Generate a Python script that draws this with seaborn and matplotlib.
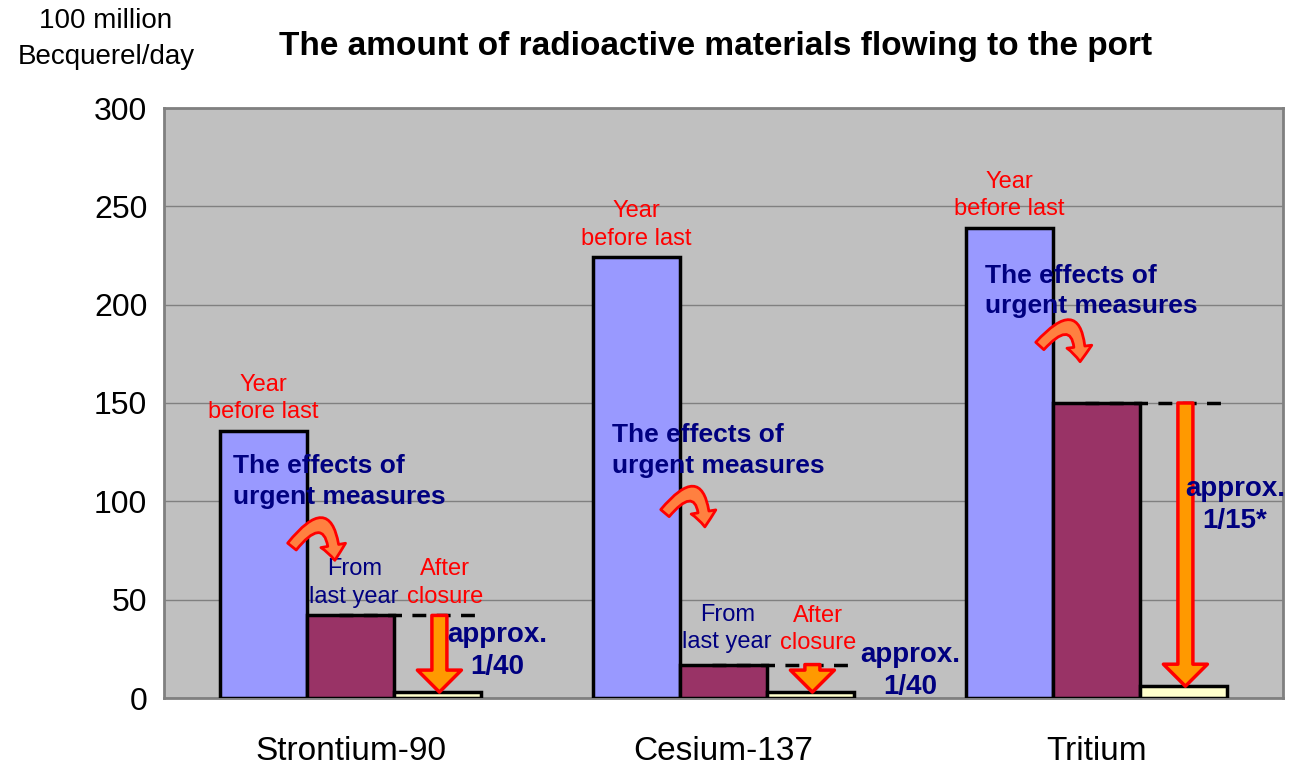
import pandas as pd
import numpy as np
import seaborn as sns
import matplotlib.pyplot as plt

# values (100 million Bq/day)
elements = ["Strontium-90", "Cesium-137", "Tritium"]
periods = ["Year before last", "Last year", "After closure"]
before_last = [136, 224, 239]
last_year = [42, 17, 150]
after_closure = [3, 3, 6]
ratio_labels = ["approx.\n1/40", "approx.\n1/40", "approx.\n1/15*"]
y_ticks = [0, 50, 100, 150, 200, 250, 300]

colors = ["#9999FF", "#993366", "#FFFFCC"]
navy = "#000080"

df = pd.DataFrame({
    "element": np.repeat(elements, 3),
    "period": periods * 3,
    "value": [v for trio in zip(before_last, last_year, after_closure) for v in trio],
})

sns.set_style("white")
plt.rcParams["font.family"] = ["Liberation Sans", "DejaVu Sans"]
plt.rcParams["text.color"] = "black"
plt.rcParams["xtick.color"] = "black"
plt.rcParams["ytick.color"] = "black"

fig = plt.figure(figsize=(12.89, 7.66), dpi=100)
ax = fig.add_axes([164 / 1289, 68 / 766, 1119 / 1289, 590 / 766])
ax.set_facecolor("#C0C0C0")

sns.barplot(data=df, x="element", y="value", hue="period", order=elements,
            hue_order=periods, palette=colors, saturation=1, width=0.7,
            edgecolor="black", linewidth=2.5, legend=False, ax=ax, zorder=3)

ax.set_xlim(-0.5, 2.5)
ax.set_ylim(0, 300)
ax.set_yticks(y_ticks)
ax.yaxis.grid(True, color="#808080", linewidth=1)
ax.set_axisbelow(True)
ax.tick_params(axis="y", length=0, pad=12, labelsize=23, labelcolor="black")
ax.tick_params(axis="x", length=0, pad=27, labelsize=24, labelcolor="black")
ax.set_xlabel("")
ax.set_ylabel("")
for s in ax.spines.values():
    s.set_color("#808080")
    s.set_linewidth(2)

fig.text(106 / 1289, 1 - 39 / 766, "100 million\nBecquerel/day", ha="center",
         va="center", fontsize=20, linespacing=1.45, color="black")
fig.text(716 / 1289, 1 - 47 / 766, "The amount of radioactive materials flowing to the port",
         ha="center", va="center", fontsize=24, fontweight="bold", color="black")

off = 0.7 / 3
effects_pos = [(-0.315, 110), (0.70, 126), (1.70, 207)]
curve_pos = [((-0.157, 77), (-0.042, 70)), ((0.843, 94), (0.95, 87)), ((1.848, 179), (1.956, 171))]
ratio_pos = [(0.393, 24), (1.50, 13.5), (2.371, 98)]

for i in range(3):
    # label above tallest bar
    ax.text(i - off, before_last[i] + 4, "Year\nbefore last", color="red",
            fontsize=17, ha="center", va="bottom", linespacing=1.3, zorder=5)
    ax.text(*effects_pos[i], "The effects of\nurgent measures", color=navy,
            fontsize=19, fontweight="bold", ha="left", va="center",
            linespacing=1.35, zorder=6)
    ax.annotate("", xy=curve_pos[i][1], xytext=curve_pos[i][0],
                arrowprops=dict(arrowstyle="simple,tail_width=0.55,head_width=1.25,head_length=0.75",
                                connectionstyle="arc3,rad=-1.3", fc="#FF8040", ec="red",
                                lw=2, mutation_scale=14.4, shrinkA=0, shrinkB=0), zorder=6)
    # dashed level of last year
    ax.plot([i - 0.03, i + 0.35], [last_year[i], last_year[i]], color="black",
            lw=2.5, ls=(0, (4, 3)), zorder=4)
    ax.annotate("", xy=(i + off + 0.005, after_closure[i]), xytext=(i + off + 0.005, last_year[i]),
                arrowprops=dict(arrowstyle="simple,tail_width=0.75,head_width=2.2,head_length=1.1",
                                fc="#FF9900", ec="red", lw=2.5, mutation_scale=14.4,
                                shrinkA=0, shrinkB=0), zorder=5)
    ax.text(*ratio_pos[i], ratio_labels[i], color=navy, fontsize=20,
            fontweight="bold", ha="center", va="center", linespacing=1.3, zorder=6)
    if i < 2:
        ax.text(i + 0.01, last_year[i] + 4 if i == 0 else 35.5, "From\nlast year",
                color=navy, fontsize=17, ha="center",
                va="bottom" if i == 0 else "center", linespacing=1.3, zorder=5)
        ax.text(i + off + 0.02, last_year[i] + 4 if i == 0 else 35, "After\nclosure",
                color="red", fontsize=17, ha="center",
                va="bottom" if i == 0 else "center", linespacing=1.3, zorder=5)

fig.savefig("out.png", dpi=100)
